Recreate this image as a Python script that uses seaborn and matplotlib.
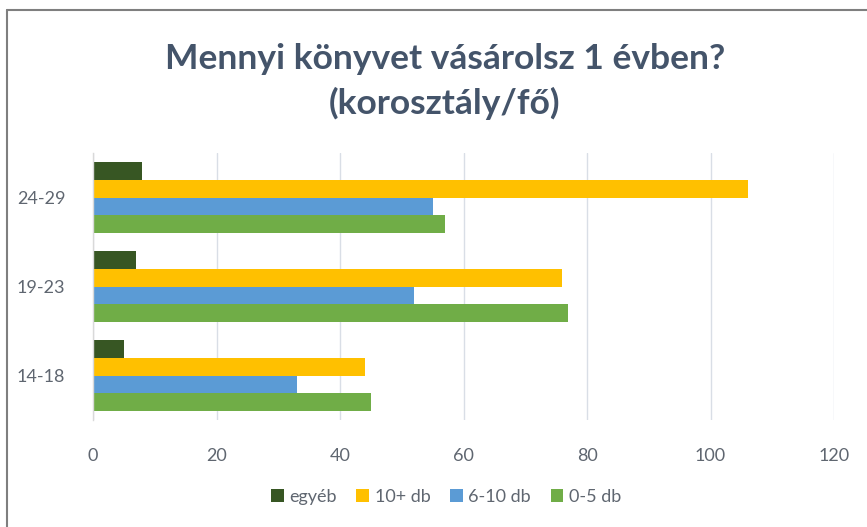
import matplotlib
matplotlib.use("Agg")
import matplotlib.pyplot as plt
from matplotlib.patches import Patch
from matplotlib.lines import Line2D
import seaborn as sns
import pandas as pd

# ---- data ----
age_groups = ["24-29", "19-23", "14-18"]
series_names = ["egyéb", "10+ db", "6-10 db", "0-5 db"]
egyeb = [8, 7, 5]
tiz_plusz = [106, 76, 44]
hat_tiz = [55, 52, 33]
nulla_ot = [57, 77, 45]
x_ticks = [0, 20, 40, 60, 80, 100, 120]
title_text = "Mennyi könyvet vásárolsz 1 évben?\n(korosztály/fő)"

colors = ["#375623", "#FFC000", "#5B9BD5", "#70AD47"]

rows = []
for name, vals in zip(series_names, [egyeb, tiz_plusz, hat_tiz, nulla_ot]):
    for g, v in zip(age_groups, vals):
        rows.append({"age": g, "series": name, "value": v})
df = pd.DataFrame(rows)

sns.set_style("white")
plt.rcParams["font.family"] = ["Lato", "DejaVu Sans"]

W, H = 867, 527
fig = plt.figure(figsize=(W / 100, H / 100), dpi=100)
ax = fig.add_axes([93 / W, 1 - 420 / H, (834 - 93) / W, (420 - 153) / H])

sns.barplot(data=df, x="value", y="age", hue="series", order=age_groups,
            hue_order=series_names, palette=colors, width=0.8, orient="h",
            saturation=1, linewidth=0, legend=False, ax=ax)

ax.set_xlim(0, 120)
ax.set_ylim(2.5, -0.5)
ax.set_xticks(x_ticks)
ax.set_xticklabels([str(t) for t in x_ticks])
ax.set_xlabel("")
ax.set_ylabel("")
ax.grid(axis="x", color="#D9DEE6", linewidth=1.0)
ax.set_axisbelow(True)
for s in ["top", "right", "bottom"]:
    ax.spines[s].set_visible(False)
ax.spines["left"].set_color("#D9D9D9")
ax.spines["left"].set_linewidth(1.0)
ax.tick_params(axis="both", length=0, labelsize=13, labelcolor="#5F6670")
ax.tick_params(axis="x", pad=20)
ax.tick_params(axis="y", pad=20)

t = fig.text(445 / W, 1 - 43 / H, title_text, ha="center", va="top",
             fontsize=24, fontweight="bold", color="#44546A", linespacing=1.45)
fig.canvas.draw()
r = fig.canvas.get_renderer()
bb = t.get_window_extent(r)
t.set_fontsize(24 * 560 / bb.width)

handles = [Patch(facecolor=c, edgecolor="none", label=n) for c, n in zip(colors, series_names)]
fig.legend(handles=handles, loc="center", bbox_to_anchor=(446 / W, 1 - 497 / H),
           ncol=4, frameon=False, fontsize=13, handlelength=0.7, handleheight=0.7,
           handletextpad=0.3, columnspacing=1.1, labelcolor="#5F6670")

fig.add_artist(Line2D([7 / W, 1], [1 - 10 / H, 1 - 10 / H], color="#7F7F7F", lw=1.5,
                      transform=fig.transFigure))
fig.add_artist(Line2D([7 / W, 7 / W], [0, 1 - 10 / H], color="#7F7F7F", lw=1.5,
                      transform=fig.transFigure))

fig.savefig("out.png", dpi=100)
